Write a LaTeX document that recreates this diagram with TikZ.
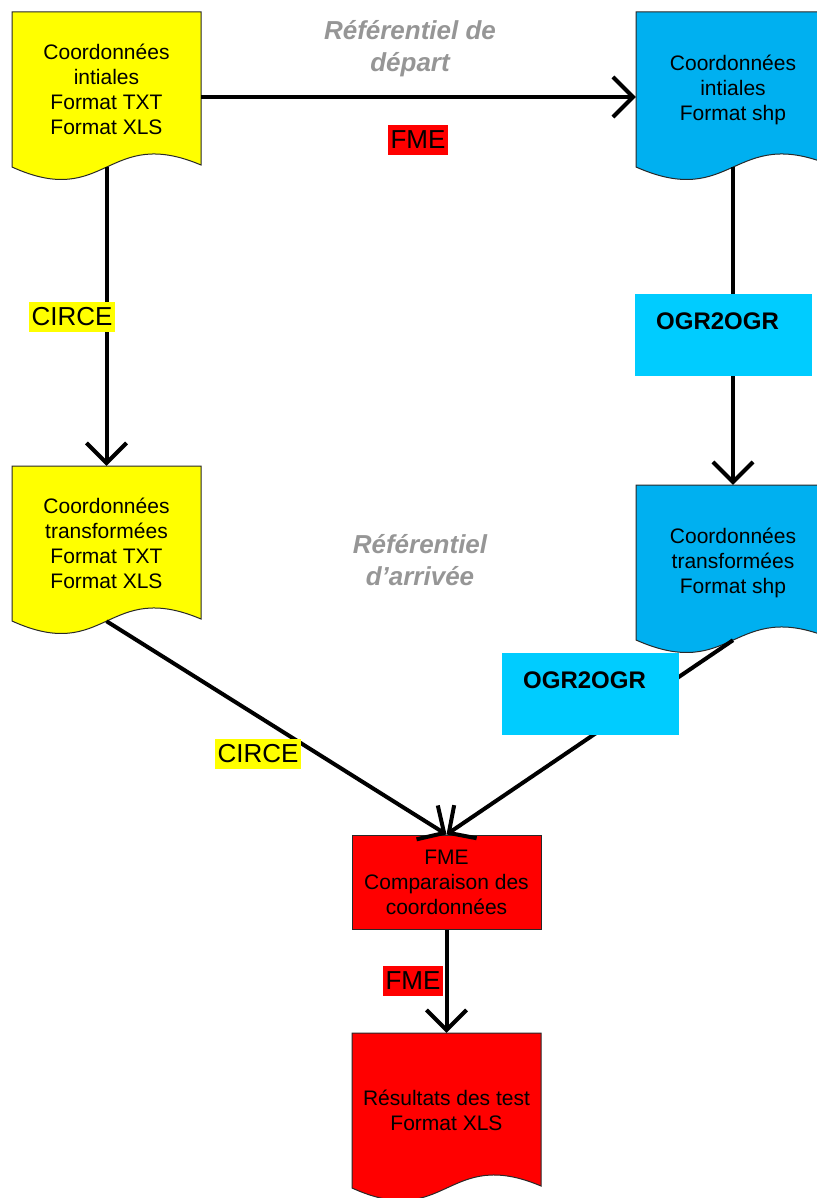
\documentclass[tikz,border=0pt]{standalone}
\usepackage{fontspec}
\setmainfont{Liberation Sans}
\usetikzlibrary{arrows.meta}
\definecolor{docYellow}{RGB}{255,255,0}
\definecolor{docBlue}{RGB}{0,176,240}
\definecolor{ogrCyan}{RGB}{0,204,255}
\definecolor{fmeRed}{RGB}{255,0,0}
\definecolor{refGray}{RGB}{150,150,150}
\definecolor{boxLine}{RGB}{40,40,40}
\tikzset{
  docline/.style={draw=boxLine, line width=1pt},
  docbody/.style={minimum height=155pt, inner sep=0pt, align=center,
    font=\fontsize{21}{25}\selectfont},
  flow/.style={line width=4pt, -{Straight Barb[length=20pt,width=40pt]}},
  tooltag/.style={inner xsep=3pt, inner ysep=6pt,
    font=\fontsize{26}{30}\selectfont},
  ogrbox/.style={fill=ogrCyan, anchor=north west, inner sep=0pt,
    minimum width=177pt, minimum height=82pt, text width=135pt,
    align=left, text height=17pt, text depth=29pt,
    font=\fontsize{24}{28}\selectfont\bfseries},
  reflabel/.style={align=center, text=refGray,
    font=\fontsize{26}{32}\selectfont\bfseries\itshape}
}
% fichier a bord ondule: nom, x du centre, y du haut, largeur, couleur, texte
\newcommand{\docfile}[6]{%
  \pgfmathsetmacro{\halfw}{#4/2}
  \draw[docline, fill=#5] (#2-\halfw,#3) -- ++(#4,0) -- ++(0,153)
    .. controls (#2,#3+113) and (#2,#3+198) .. (#2-\halfw,#3+155) -- cycle;
  \node[docbody, minimum width=#4] (#1) at (#2,#3+77.5) {#6};
}

\begin{document}
\begin{tikzpicture}[x=1pt,y=-1pt]
  \useasboundingbox (0,0) rectangle (816,1198);
  % fichiers de coordonnees
  \docfile{yelIni}{106.5}{12}{189}{docYellow}{Coordonnées\\intiales\\Format TXT\\Format XLS}
  \docfile{bluIni}{733}{12}{194}{docBlue}{Coordonnées\\intiales\\Format shp}
  \docfile{yelTrf}{106.5}{466}{189}{docYellow}{Coordonnées\\transformées\\Format TXT\\Format XLS}
  \docfile{bluTrf}{733}{485}{194}{docBlue}{Coordonnées\\transformées\\Format shp}
  \node[docline, fill=fmeRed, minimum width=189pt, minimum height=94pt,
    inner sep=0pt, align=center, font=\fontsize{21}{25}\selectfont]
    (fmeCmp) at (446.5,882) {FME\\Comparaison des\\coordonnées};
  \docfile{resTest}{446.5}{1033}{189}{fmeRed}{Résultats des test\\Format XLS}
  % referentiels
  \node[reflabel] (refDep) at (410,49) {Référentiel de\\départ};
  \node[reflabel] (refArr) at (420,560) {Référentiel\\d'arrivée};
  % liaisons
  \draw[flow] ([yshift=-7.5pt]yelIni.east) -- ([yshift=-7.5pt]yelIni.east -| bluIni.west);
  \draw[flow] (yelIni.south) -- (yelTrf.north);
  \draw[flow] (bluIni.south) -- (bluTrf.north);
  \draw[flow] (yelTrf.south) -- (fmeCmp.north);
  \draw[flow] (bluTrf.south) -- (fmeCmp.north);
  \draw[flow] (fmeCmp.south) -- (resTest.north);
  % outils
  \node[tooltag, fill=fmeRed] (fmeA) at (418,140) {FME};
  \node[tooltag, fill=docYellow] (circeA) at (72,317) {CIRCE};
  \node[ogrbox] (ogrA) at (635,294) {OGR2OGR};
  \node[ogrbox] (ogrB) at (502,653) {OGR2OGR};
  \node[tooltag, fill=docYellow] (circeB) at (258,754) {CIRCE};
  \node[tooltag, fill=fmeRed] (fmeB) at (413,981) {FME};
\end{tikzpicture}
\end{document}
